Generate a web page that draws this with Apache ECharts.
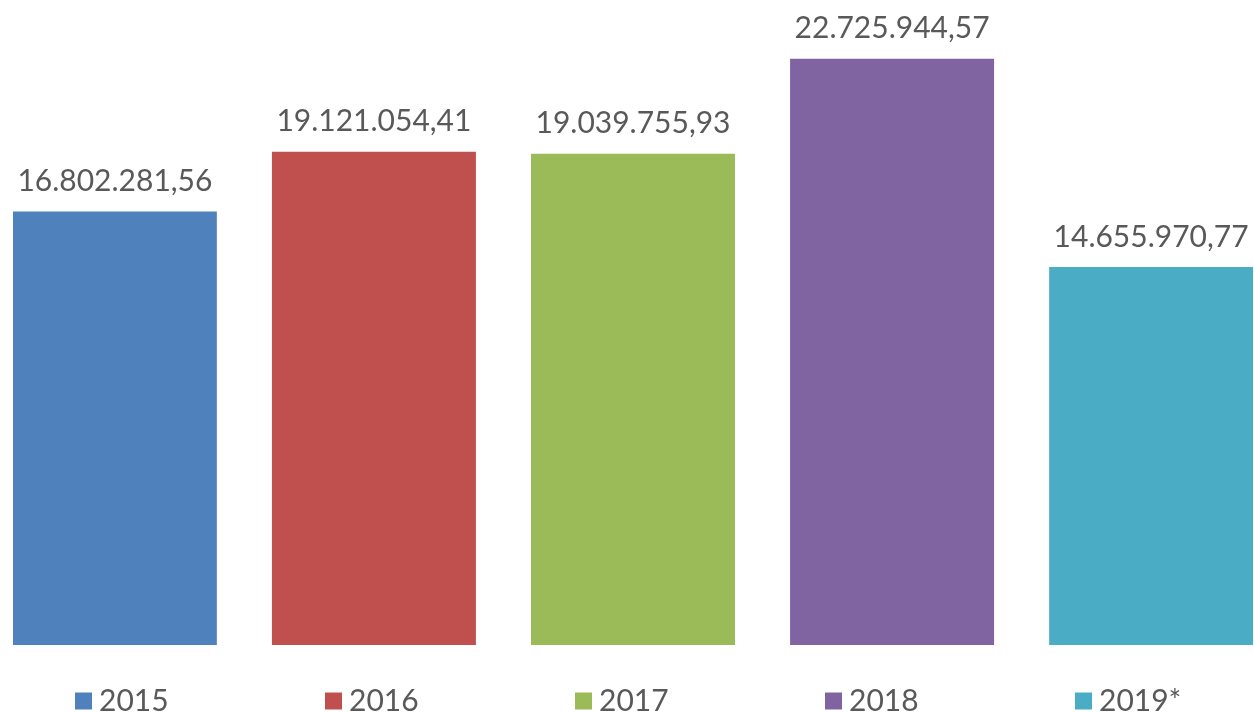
<!DOCTYPE html>
<html lang="pt-BR">
<head>
  <meta charset="UTF-8">
  <title>Valores por ano</title>
  <script src="https://cdn.jsdelivr.net/npm/echarts@6/dist/echarts.min.js"></script>
  <style>
    * { margin: 0; padding: 0; }
    html, body { width: 100%; height: 100%; background: #fff; }
    #chartbox { width: 1254px; height: 712px; }
  </style>
</head>
<body>
<div id="chartbox"></div>
<script>
  // dados
  const years = ['2015', '2016', '2017', '2018', '2019*']
  const values = [16802281.56, 19121054.41, 19039755.93, 22725944.57, 14655970.77]
  const colors = ['#4F81BD', '#C0504D', '#9BBB59', '#8064A2', '#4BACC6']

  const font = 'Lato, "Open Sans", sans-serif'
  const textColor = '#595959'

  // formato brasileiro: 16.802.281,56
  function fmtBR(v) {
    let parts = v.toFixed(2).split('.')
    let int = parts[0].replace(/\B(?=(\d{3})+(?!\d))/g, '.')
    return int + ',' + parts[1]
  }

  let myChart = echarts.init(document.getElementById('chartbox'))

  let series = []
  let legends = []
  years.forEach(function (y, i) {
    series.push({
      name: y,
      type: 'bar',
      barWidth: 204,
      barGap: '27%',
      itemStyle: { color: colors[i] },
      label: {
        show: true,
        position: 'top',
        distance: 15,
        color: textColor,
        fontFamily: font,
        fontSize: 30,
        formatter: function (p) { return fmtBR(p.value) }
      },
      data: [values[i]]
    })
    // uma legenda por ano, espaçadas igualmente
    legends.push({
      data: [y],
      left: 75 + 250 * i,
      top: 686,
      padding: 0,
      itemWidth: 17,
      itemHeight: 17,
      icon: 'rect',
      itemGap: 0,
      textStyle: { color: textColor, fontFamily: font, fontSize: 30, lineHeight: 30, padding: [0, 0, 0, 2] }
    })
  })

  let option = {
    animation: false,
    backgroundColor: '#fff',
    grid: { left: 13, right: 1, top: -1, bottom: 67 },
    legend: legends,
    xAxis: {
      type: 'category',
      data: [''],
      axisLine: { show: false },
      axisTick: { show: false },
      axisLabel: { show: false }
    },
    yAxis: {
      type: 'value',
      min: 0,
      max: 25000000,
      show: false,
      splitLine: { show: false }
    },
    series: series
  }
  myChart.setOption(option)
</script>
</body>
</html>
